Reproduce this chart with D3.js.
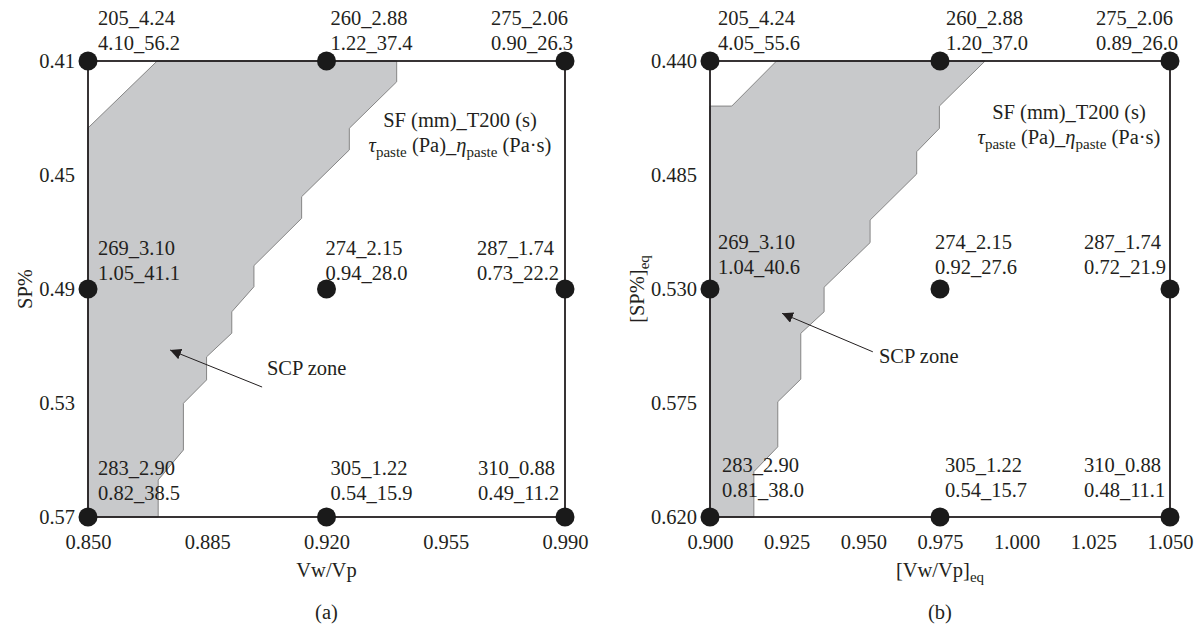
<!DOCTYPE html>
<html>
<head>
<meta charset="utf-8">
<script src="https://cdn.jsdelivr.net/npm/d3@7"></script>
<style>
    body { margin: 0; background: #fff; }
    svg text { font-family: "Liberation Serif", "Times New Roman", serif; fill: #231f20; }
</style>
</head>
<body>
<svg id="mainSVG" width="1199" height="627"></svg>
<script>
/* ------------------------------------------------------------------ */
/* ------------------------------ DATA ------------------------------ */
/* ------------------------------------------------------------------ */

// (a) Vw/Vp - SP%
let xTicksA = [0.850, 0.885, 0.920, 0.955, 0.990]
let yTicksA = [0.41, 0.45, 0.49, 0.53, 0.57]
let xLevelsA = [0.850, 0.920, 0.990]
let yLevelsA = [0.41, 0.49, 0.57]
// riga per riga (SP% crescente), colonna per colonna (Vw/Vp crescente)
let flowA = ["205_4.24", "260_2.88", "275_2.06", "269_3.10", "274_2.15", "287_1.74", "283_2.90", "305_1.22", "310_0.88"]
let rheoA = ["4.10_56.2", "1.22_37.4", "0.90_26.3", "1.05_41.1", "0.94_28.0", "0.73_22.2", "0.82_38.5", "0.54_15.9", "0.49_11.2"]
let zoneA = [
    [0.8703, 0.41], [0.9406, 0.41], [0.9406, 0.4173], [0.9267, 0.4336], [0.9267, 0.4412],
    [0.9127, 0.4576], [0.9127, 0.4652], [0.8987, 0.4818], [0.8987, 0.4892], [0.8922, 0.4980],
    [0.8922, 0.5055], [0.8848, 0.5138], [0.8848, 0.5219], [0.8780, 0.5301], [0.8780, 0.5465],
    [0.8706, 0.5570], [0.8706, 0.57], [0.85, 0.57], [0.85, 0.4335]
]

// (b) [Vw/Vp]eq - [SP%]eq
let xTicksB = [0.900, 0.925, 0.950, 0.975, 1.000, 1.025, 1.050]
let yTicksB = [0.440, 0.485, 0.530, 0.575, 0.620]
let xLevelsB = [0.900, 0.975, 1.050]
let yLevelsB = [0.440, 0.530, 0.620]
let flowB = ["205_4.24", "260_2.88", "275_2.06", "269_3.10", "274_2.15", "287_1.74", "283_2.90", "305_1.22", "310_0.88"]
let rheoB = ["4.05_55.6", "1.20_37.0", "0.89_26.0", "1.04_40.6", "0.92_27.6", "0.72_21.9", "0.81_38.0", "0.54_15.7", "0.48_11.1"]
let zoneB = [
    [0.9217, 0.44], [0.9897, 0.44], [0.9748, 0.4578], [0.9748, 0.4666], [0.9674, 0.4758],
    [0.9674, 0.4846], [0.9522, 0.5028], [0.9522, 0.5117], [0.9372, 0.5293], [0.9372, 0.5390],
    [0.9296, 0.5475], [0.9296, 0.5656], [0.9221, 0.5745], [0.9221, 0.5923], [0.9143, 0.6021],
    [0.9143, 0.62], [0.90, 0.62], [0.90, 0.4578], [0.9071, 0.4578]
]

/* -------------------------------------------------------------------- */
/* ------------------------------ LAYOUT ------------------------------ */
/* -------------------------------------------------------------------- */

let svg = d3.select("#mainSVG")
let FS = 20.5
let SUB = 15
let INK = "#231f20"

let panels = [
    {
        xRange: [88, 565], yRange: [61, 517],
        xTicks: xTicksA, yTicks: yTicksA, xFmt: d3.format(".3f"), yFmt: d3.format(".2f"),
        xLevels: xLevelsA, yLevels: yLevelsA, flow: flowA, rheo: rheoA, zone: zoneA,
        // offset etichette: dx[riga][colonna], dy[riga] (baseline prima riga)
        dx: [[10, 4, -74], [10, -1, -88], [10, 4, -87]], dy: [-36, -34, -42],
        legend: { x: 460, y: 127 },
        arrow: { from: [0.9011, 0.5244], to: [0.8741, 0.5114], text: [0.9025, 0.5200] },
        xTitle: "Vw/Vp", yTitle: "SP%", sub: false, tag: "(a)",
        yTitleX: 32
    },
    {
        xRange: [710, 1170], yRange: [61, 517],
        xTicks: xTicksB, yTicks: yTicksB, xFmt: d3.format(".3f"), yFmt: d3.format(".3f"),
        xLevels: xLevelsB, yLevels: yLevelsB, flow: flowB, rheo: rheoB, zone: zoneB,
        dx: [[8, 6, -74], [8, -5, -86], [12, 5, -86]], dy: [-36, -40, -45],
        legend: { x: 1069, y: 119 },
        arrow: { from: [0.9531, 0.5548], to: [0.9235, 0.5396], text: [0.9551, 0.5592] },
        xTitle: "[Vw/Vp]", yTitle: "[SP%]", sub: true, tag: "(b)",
        yTitleX: 644
    }
]

svg.append("defs").append("marker")
    .attr("id", "head")
    .attr("viewBox", "0 0 10 10")
    .attr("refX", 10).attr("refY", 5)
    .attr("markerWidth", 11).attr("markerHeight", 11)
    .attr("markerUnits", "userSpaceOnUse")
    .attr("orient", "auto")
    .append("path")
        .attr("d", "M0,0 L10,5 L0,10 Z")
        .attr("fill", INK)

/* -------------------------------------------------------------------- */
/* ------------------------------ DRAW ------------------------------ */
/* -------------------------------------------------------------------- */

function drawPanel(p) {
    let x = d3.scaleLinear().domain([p.xTicks[0], p.xTicks[p.xTicks.length - 1]]).range(p.xRange)
    let y = d3.scaleLinear().domain([p.yTicks[0], p.yTicks[p.yTicks.length - 1]]).range(p.yRange)
    let g = svg.append("g")

    // zona SCP
    g.append("path")
        .attr("d", d3.line().x(d => x(d[0])).y(d => y(d[1]))(p.zone) + "Z")
        .attr("fill", "#c8c9cb")
        .attr("stroke", "#858585")
        .attr("stroke-width", 1)

    // assi (senza tacche) + cornice
    let xAxis = g.append("g")
        .attr("transform", "translate(0," + p.yRange[1] + ")")
        .call(d3.axisBottom(x).tickValues(p.xTicks).tickFormat(p.xFmt).tickSize(0).tickPadding(17))
    let yAxis = g.append("g")
        .attr("transform", "translate(" + p.xRange[0] + ",0)")
        .call(d3.axisLeft(y).tickValues(p.yTicks).tickFormat(p.yFmt).tickSize(0).tickPadding(13))
    for (let a of [xAxis, yAxis]) {
        a.select(".domain").remove()
        a.attr("font-family", null).attr("font-size", null)
        a.selectAll("text").attr("font-size", FS).attr("fill", INK)
    }

    g.append("rect")
        .attr("x", p.xRange[0]).attr("y", p.yRange[0])
        .attr("width", p.xRange[1] - p.xRange[0])
        .attr("height", p.yRange[1] - p.yRange[0])
        .attr("fill", "none")
        .attr("stroke", INK)
        .attr("stroke-width", 1.8)

    // punti sperimentali
    let pts = []
    p.yLevels.forEach(function (yv, r) {
        p.xLevels.forEach(function (xv, c) {
            let i = r * p.xLevels.length + c
            pts.push({ x: xv, y: yv, r: r, c: c, flow: p.flow[i], rheo: p.rheo[i] })
        })
    })

    g.append("g").selectAll("circle")
        .data(pts)
        .enter()
            .append("circle")
            .attr("cx", d => x(d.x))
            .attr("cy", d => y(d.y))
            .attr("r", 9.5)
            .attr("fill", "#1a1a1a")

    let labels = g.append("g").selectAll("text")
        .data(pts)
        .enter()
            .append("text")
            .attr("font-size", FS)
            .attr("x", d => x(d.x) + p.dx[d.r][d.c])
            .attr("y", d => y(d.y) + p.dy[d.r])
    labels.append("tspan").text(d => d.flow)
    labels.append("tspan")
        .attr("x", d => x(d.x) + p.dx[d.r][d.c])
        .attr("dy", 25)
        .text(d => d.rheo)

    // legenda
    let leg = g.append("g").attr("font-size", FS).attr("text-anchor", "middle")
    leg.append("text")
        .attr("x", p.legend.x).attr("y", p.legend.y)
        .text("SF (mm)_T200 (s)")
    let l2 = leg.append("text")
        .attr("x", p.legend.x).attr("y", p.legend.y + 25)
    l2.append("tspan").attr("font-style", "italic").text("τ")
    l2.append("tspan").attr("font-size", SUB).attr("dy", 5).text("paste")
    l2.append("tspan").attr("dy", -5).text(" (Pa)_")
    l2.append("tspan").attr("font-style", "italic").text("η")
    l2.append("tspan").attr("font-size", SUB).attr("dy", 5).text("paste")
    l2.append("tspan").attr("dy", -5).text(" (Pa·s)")

    // freccia "SCP zone"
    g.append("line")
        .attr("x1", x(p.arrow.from[0])).attr("y1", y(p.arrow.from[1]))
        .attr("x2", x(p.arrow.to[0])).attr("y2", y(p.arrow.to[1]))
        .attr("stroke", INK)
        .attr("stroke-width", 1)
        .attr("marker-end", "url(#head)")
    g.append("text")
        .attr("font-size", FS)
        .attr("x", x(p.arrow.text[0])).attr("y", y(p.arrow.text[1]))
        .text("SCP zone")

    // titoli assi
    let cx = (p.xRange[0] + p.xRange[1]) / 2
    let cy = (p.yRange[0] + p.yRange[1]) / 2
    let xt = g.append("text")
        .attr("font-size", FS).attr("text-anchor", "middle")
        .attr("x", cx).attr("y", 577)
    xt.append("tspan").text(p.xTitle)
    if (p.sub) xt.append("tspan").attr("font-size", SUB).attr("dy", 5).text("eq")

    let yt = g.append("text")
        .attr("font-size", FS).attr("text-anchor", "middle")
        .attr("transform", "translate(" + p.yTitleX + "," + cy + ") rotate(-90)")
    yt.append("tspan").text(p.yTitle)
    if (p.sub) yt.append("tspan").attr("font-size", SUB).attr("dy", 5).text("eq")

    g.append("text")
        .attr("font-size", FS).attr("text-anchor", "middle")
        .attr("x", cx).attr("y", 619)
        .text(p.tag)
}

panels.forEach(drawPanel)
</script>
</body>
</html>
